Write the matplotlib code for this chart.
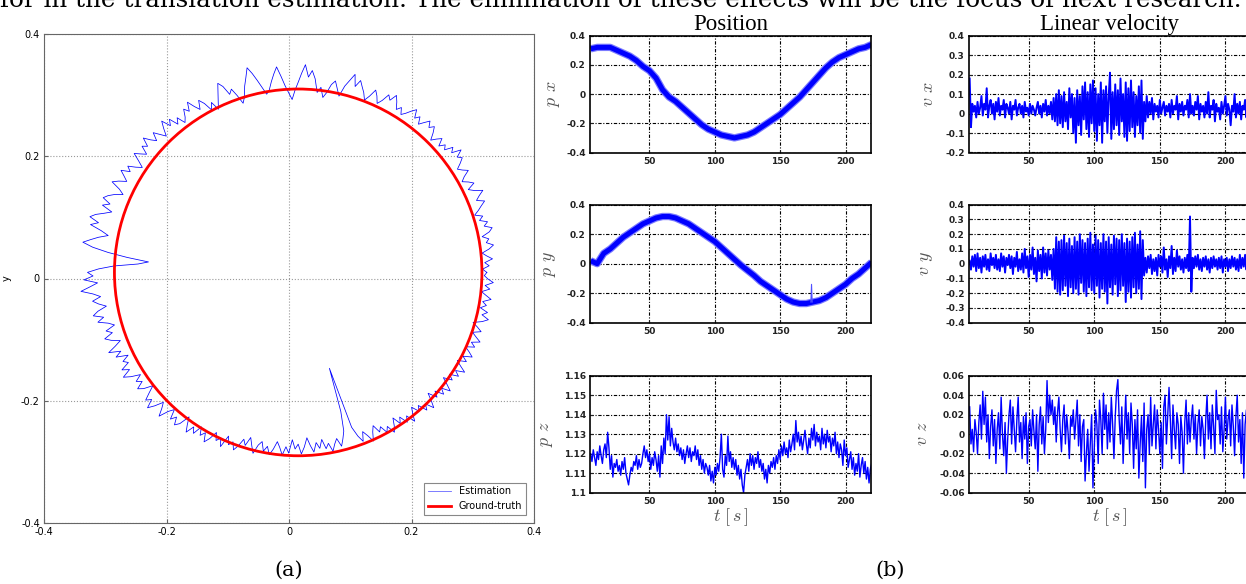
import numpy as np
import matplotlib
matplotlib.use('Agg')
import matplotlib.pyplot as plt
from matplotlib.patches import Circle
from matplotlib.lines import Line2D
from matplotlib.ticker import FuncFormatter

plt.rcParams['mathtext.fontset'] = 'cm'

# ---------------- data ----------------
# (a) trajectory: ground-truth circle and estimated path (polar around circle centre)
gt_center = (0.015, 0.01)
gt_radius = 0.30
est_angle_deg = np.arange(0, 360, 1)
est_radius_mm = [
    308, 301, 312, 305, 318, 309, 302, 314, 322, 311,
    316, 306, 319, 325, 313, 320, 308, 315, 303, 311,
    318, 326, 314, 321, 330, 317, 309, 322, 315, 306,
    313, 324, 316, 310, 319, 327, 321, 333, 318, 325,
    312, 318, 309, 321, 314, 306, 317, 326, 319, 328,
    320, 312, 323, 316, 329, 322, 314, 308, 318, 311,
    322, 331, 319, 326, 313, 305, 316, 324, 311, 302,
    313, 321, 330, 318, 337, 325, 314, 296, 307, 319,
    312, 298, 289, 305, 296, 318, 331, 320, 340, 326,
    311, 298, 283, 294, 306, 322, 338, 327, 315, 302,
    296, 308, 321, 334, 345, 330, 317, 300, 291, 306,
    319, 312, 328, 336, 322, 309, 297, 312, 301, 316,
    325, 311, 320, 332, 318, 326, 314, 307, 321, 312,
    327, 318, 333, 322, 310, 319, 329, 316, 324, 335,
    321, 328, 314, 322, 331, 318, 307, 316, 328, 320,
    334, 325, 317, 329, 338, 322, 313, 326, 335, 341,
    327, 338, 320, 331, 344, 352, 336, 348, 329, 316,
    331, 343, 355, 338, 312, 280, 245, 262, 301, 326,
    344, 335, 350, 328, 341, 356, 337, 325, 339, 330,
    318, 333, 342, 326, 337, 321, 312, 328, 319, 334,
    325, 311, 322, 336, 317, 328, 309, 321, 314, 329,
    318, 333, 322, 307, 319, 311, 324, 316, 301, 313,
    325, 317, 331, 320, 306, 315, 327, 311, 302, 318,
    309, 321, 314, 296, 308, 319, 305, 314, 298, 311,
    303, 317, 308, 294, 306, 299, 312, 291, 304, 297,
    309, 300, 287, 296, 281, 293, 305, 290, 283, 298,
    289, 302, 292, 279, 288, 300, 286, 296, 274, 289,
    281, 297, 286, 271, 284, 295, 280, 290, 276, 292,
    284, 298, 287, 279, 293, 282, 270, 238, 165, 268,
    285, 296, 281, 290, 302, 288, 279, 293, 286, 299,
    291, 305, 296, 284, 298, 289, 303, 294, 309, 297,
    288, 301, 293, 308, 299, 313, 302, 290, 305, 296,
    310, 301, 315, 304, 293, 307, 298, 312, 303, 317,
    306, 297, 311, 302, 316, 308, 299, 313, 305, 318,
    309, 301, 314, 306, 297, 311, 320, 308, 316, 303,
    312, 305, 318, 309, 301, 314, 306, 319, 310, 304,
]

# (b) position, coarse samples every 5 s
t_pos = np.arange(5, 221, 5)
px = [0.31, 0.32, 0.32, 0.32, 0.30, 0.28, 0.26, 0.23, 0.19, 0.16,
      0.11, 0.03, -0.02, -0.05, -0.09, -0.13, -0.17, -0.21, -0.24, -0.26,
      -0.28, -0.29, -0.30, -0.29, -0.28, -0.26, -0.23, -0.20, -0.17, -0.14,
      -0.10, -0.06, -0.02, 0.03, 0.08, 0.13, 0.18, 0.22, 0.25, 0.27,
      0.29, 0.31, 0.32, 0.34]
py = [0.02, 0.0, 0.07, 0.10, 0.14, 0.18, 0.21, 0.24, 0.27, 0.29,
      0.31, 0.32, 0.32, 0.31, 0.29, 0.27, 0.24, 0.21, 0.18, 0.15,
      0.11, 0.07, 0.03, -0.01, -0.045, -0.08, -0.12, -0.15, -0.18, -0.21,
      -0.24, -0.26, -0.27, -0.27, -0.26, -0.25, -0.23, -0.20, -0.17, -0.14,
      -0.10, -0.07, -0.03, 0.01]
py_spike_t = [173.5, 174.0, 174.5]
py_spike = [-0.26, -0.14, -0.26]

# (b) fast signals, one sample per second, in thousandths
t_fast = np.arange(5, 221)
pz_mm = [  # offset above 1.100
    20, 16, 22, 18, 14, 21, 17, 24, 19, 15,
    22, 25, 18, 31, 23, 12, 19, 8, 15, 13,
    17, 11, 14, 9, 16, 12, 18, 10, 7, 4,
    9, 13, 11, 16, 14, 19, 12, 17, 13, 15,
    20, 24, 18, 22, 16, 20, 12, 18, 14, 21,
    17, 11, 19, 8, 24, 15, 28, 20, 40, 27,
    39, 24, 33, 26, 22, 28, 21, 25, 19, 23,
    17, 22, 15, 20, 24, 18, 23, 16, 21, 19,
    24, 17, 22, 14, 19, 12, 17, 10, 15, 13,
    9, 14, 6, 11, 5, 13, 9, 15, 11, 18,
    30, 12, 8, 19, 14, 29, 16, 21, 13, 18,
    12, 17, 9, 14, 7, 12, 4, 0, 9, 13,
    17, 11, 20, 14, 19, 12, 18, 15, 21, 13,
    17, 11, 15, 7, 12, 5, 14, 10, 16, 13,
    18, 12, 19, 15, 22, 17, 24, 19, 26, 20,
    23, 18, 27, 21, 25, 30, 22, 37, 26, 31,
    24, 29, 22, 27, 32, 25, 20, 28, 23, 33,
    27, 35, 24, 31, 26, 29, 22, 33, 25, 30,
    23, 32, 26, 29, 21, 28, 24, 31, 20, 26,
    18, 25, 22, 14, 27, 19, 23, 13, 17, 21,
    12, 18, 9, 15, 11, 20, 8, 14, 18, 10,
    16, 7, 13, 5, 12, 15,
]
vx_mm = [
    180, -70, 50, 10, 40, -20, 60, 0, 30, 90,
    -10, 50, 20, 130, -20, 40, 70, 0, 50, -30,
    60, 10, 80, -10, 40, 20, 70, -20, 50, 30,
    0, 60, -30, 40, 20, 70, -10, 30, 50, 0,
    40, -20, 60, 10, 30, -10, 50, 0, 40, 20,
    -10, 30, 60, 0, 40, -20, 50, 10, 70, -10,
    40, 0, 60, -30, 80, -40, 100, -60, 120, -50,
    90, -70, 110, -40, 60, -80, 130, -20, 100, -100,
    80, -150, 120, -60, 90, -110, 140, -30, 160, -80,
    110, -120, 150, -50, 170, -90, 130, -140, 100, -60,
    160, -150, 120, -40, 140, -100, 90, 210, -130, 110,
    -80, 150, -60, 120, -110, 180, -40, 100, -120, 160,
    -140, 130, -90, 170, -70, 110, -120, 90, -60, 140,
    -100, 170, -130, 60, -40, 90, -20, 60, 0, 80,
    -30, 50, 10, 40, -20, 70, 0, 30, 60, -10,
    40, 10, 50, -20, 70, 0, 40, 20, 90, -30,
    50, 10, 60, -10, 40, 20, 70, -20, 100, 0,
    40, -10, 60, 20, 90, -30, 50, 10, 40, -20,
    60, 0, 110, -20, 40, 20, 70, -40, 50, 10,
    30, -30, 60, 0, 40, 90, -10, 50, 20, -60,
    40, 10, 100, -20, 50, 0, 60, -30, 40, 20,
    70, -20, 50, 10, 80, 0,
]
vy_mm = [
    20, -40, 50, -20, 60, -50, 70, -30, 40, -60,
    50, -20, 60, -40, 30, -50, 70, -10, 40, -30,
    60, -40, 30, -50, 70, -20, 50, -60, 40, -10,
    60, -30, 50, -70, 40, -20, 80, -50, 30, -40,
    70, -60, 100, -30, 50, -90, 60, -40, 110, -70,
    40, -120, 90, -50, 60, -100, 110, -60, 70, -80,
    90, -40, 60, -110, 100, -170, 180, -190, 150, -210,
    160, -180, 190, -150, 140, -220, 170, -160, 120, -200,
    180, -170, 150, -210, 200, -130, 160, -190, 140, -220,
    170, -160, 210, -180, 130, -200, 190, -150, 160, -230,
    140, -170, 200, -190, 150, -270, 180, -160, 130, -210,
    190, -140, 170, -220, 160, -180, 200, -150, 140, -260,
    170, -190, 150, -230, 180, -160, 210, -200, 130, -170,
    220, -240, 160, -80, 40, -60, 50, -30, 60, -70,
    30, -50, 40, -80, 60, -20, 50, -60, 110, -40,
    30, -90, 50, -30, 120, -70, 40, -50, 90, -20,
    50, -40, 30, -60, 40, -30, 60, -50, 320, -190,
    40, -30, 50, -20, 60, -40, 30, -50, 40, -20,
    50, -40, 30, -60, 40, -30, 50, -20, 30, -40,
    40, -30, 50, -60, 30, -20, 40, -50, 30, -30,
    50, -20, 40, -40, 30, -50, 60, -30, 40, -20,
    60, -40, 30, -50, 40, -20,
]
vz_mm = [
    28, -10, 5, -18, 15, 2, -20, 12, 30, -5,
    44, 10, 38, -8, 20, -25, 8, 25, -12, 15,
    -30, 5, 22, -15, 38, 0, -22, 12, -40, -5,
    20, 35, -10, 28, 5, -18, 15, 38, -8, 12,
    -25, 18, -5, 22, -30, 8, 15, -12, 25, 3,
    -15, 20, -38, 10, 28, -10, 18, -20, 5, 55,
    12, 40, 20, 35, 10, 28, -8, 22, 38, 5,
    -18, 15, 30, -10, 20, 2, -25, 18, 8, 25,
    -5, 15, 35, -12, 20, -28, 8, 15, -48, -20,
    5, -38, -10, 20, -55, -15, 25, 10, -30, 35,
    15, -20, 42, 5, 30, -15, 22, -8, 38, 10,
    -25, 18, 45, 56, 15, -10, 28, -30, 5, 40,
    -5, 22, -20, 32, 10, -35, 15, -15, 25, -45,
    -10, 18, -28, 32, -55, 5, 20, -20, 38, -12,
    10, 30, -15, 25, 5, -20, 12, -35, 28, 40,
    -10, 20, 48, 15, -25, 30, 5, -15, 22, 10,
    -30, 18, 2, -40, 12, 35, -10, 22, -8, 15,
    30, -5, 20, -20, 10, 25, -12, 18, 5, -25,
    15, 40, -5, 22, -15, 30, 8, -20, 45, 15,
    20, -10, 28, -18, 5, 38, -5, 15, 25, -12,
    30, 8, -22, 18, 40, -8, 15, -30, 22, -45,
    10, 25, -15, 20, -25, 5,
]

pz = 1.1 + np.array(pz_mm) / 1000.0
vx = np.array(vx_mm) / 1000.0
vy = np.array(vy_mm) / 1000.0
vz = np.array(vz_mm) / 1000.0

# ---------------- figure ----------------
W, H = 1246, 584
fig = plt.figure(figsize=(W / 100, H / 100), dpi=100)


def fbox(x0, top, x1, bottom):
    return [x0 / W, 1 - bottom / H, (x1 - x0) / W, (bottom - top) / H]


fmt = FuncFormatter(lambda v, p: '%g' % (round(v, 4) + 0.0))

# top cropped text line and captions
fig.text(0.0, 1 - 7 / H,
         'for in the translation estimation. The elimination of these effects will be the focus of next research.',
         fontsize=17.7, family='DejaVu Serif', va='baseline', ha='left')
fig.text(289 / W, 1 - 570 / H, '(a)', fontsize=15, family='DejaVu Serif', ha='center', va='center')
fig.text(890 / W, 1 - 570 / H, '(b)', fontsize=15, family='DejaVu Serif', ha='center', va='center')

# ---- (a) ----
ax = fig.add_axes(fbox(44, 34, 534, 523))
ang = np.deg2rad(np.append(est_angle_deg, 360))
rad = np.array(est_radius_mm + est_radius_mm[:1]) / 1000.0
ex = gt_center[0] + rad * np.cos(ang)
ey = gt_center[1] + rad * np.sin(ang)
ax.plot(ex, ey, color='#0000ff', lw=0.55)
ax.add_patch(Circle(gt_center, gt_radius, fill=False, ec='red', lw=2, zorder=3))
ax.set_xlim(-0.4, 0.4)
ax.set_ylim(-0.4, 0.4)
ticks = [-0.4, -0.2, 0, 0.2, 0.4]
ax.set_xticks(ticks)
ax.set_yticks(ticks)
ax.xaxis.set_major_formatter(fmt)
ax.yaxis.set_major_formatter(fmt)
ax.grid(True, color='#999999', linestyle=':', lw=0.8)
for s in ax.spines.values():
    s.set_color('#666666')
    s.set_linewidth(0.8)
ax.tick_params(direction='in', length=3, labelsize=7, color='#666666', pad=3)
ax.set_ylabel('y', fontsize=7)
ax.yaxis.set_label_coords((12 - 44) / 490, 0.5)
handles = [Line2D([], [], color='#0000ff', lw=0.6, alpha=0.6),
           Line2D([], [], color='red', lw=2)]
leg = ax.legend(handles, ['Estimation', 'Ground-truth'], loc='lower right',
                fontsize=7, fancybox=False, edgecolor='#888888', framealpha=1,
                borderpad=0.4, handlelength=2.4, borderaxespad=0.8)
leg.get_frame().set_linewidth(0.8)

# ---- (b) ----
grid_ls = (0, (3, 1.5, 1, 1.5))


def style_ts(a, yticks, ylab, labx):
    a.set_xlim(4.5, 219.5)
    a.set_xticks([50, 100, 150, 200])
    a.set_ylim(yticks[0], yticks[-1])
    a.set_yticks(yticks)
    a.yaxis.set_major_formatter(fmt)
    a.grid(True, color='black', linestyle=grid_ls, lw=0.8)
    for s in a.spines.values():
        s.set_linewidth(1.2)
    a.tick_params(direction='in', length=2, labelsize=6.5, pad=3, colors='#222222')
    for lbl in a.get_xticklabels() + a.get_yticklabels():
        lbl.set_fontweight('bold')
    a.set_ylabel(ylab, fontsize=13, color='#555555')
    a.yaxis.set_label_coords(labx, 0.5)


rows = [(35.7, 152.5), (204.7, 322.7), (375.7, 492.7)]
c1 = (590, 871)
c2 = (969, 1251)

a = fig.add_axes(fbox(c1[0], rows[0][0], c1[1], rows[0][1]))
a.plot(t_pos, px, color='#7a7aff', lw=5.3, solid_capstyle='butt')
a.plot(t_pos, px, color='#0000ff', lw=3.6, solid_capstyle='butt')
style_ts(a, [-0.4, -0.2, 0, 0.2, 0.4], r'$p\ x$', -0.10)
a.set_title('Position', family='Liberation Serif', fontsize=16.5, pad=4)

a = fig.add_axes(fbox(c1[0], rows[1][0], c1[1], rows[1][1]))
a.plot(t_pos, py, color='#7a7aff', lw=5.3, solid_capstyle='butt')
a.plot(t_pos, py, color='#0000ff', lw=3.6, solid_capstyle='butt')
a.plot(py_spike_t, py_spike, color='#5050ff', lw=0.8)
style_ts(a, [-0.4, -0.2, 0, 0.2, 0.4], r'$p\ y$', -0.115)

a = fig.add_axes(fbox(c1[0], rows[2][0], c1[1], rows[2][1]))
a.plot(t_fast, pz, color='#0000ff', lw=1.0)
style_ts(a, [1.10, 1.11, 1.12, 1.13, 1.14, 1.15, 1.16], r'$p\ z$', -0.125)
a.set_xlabel(r'$t\ [\,s\,]$', fontsize=13, color='#555555', labelpad=0)

a = fig.add_axes(fbox(c2[0], rows[0][0], c2[1], rows[0][1]))
a.plot(t_fast, vx, color='#0000ff', lw=1.4)
style_ts(a, [-0.2, -0.1, 0, 0.1, 0.2, 0.3, 0.4], r'$v\ x$', -0.115)
a.set_title('Linear velocity', family='Liberation Serif', fontsize=16.5, pad=4)

a = fig.add_axes(fbox(c2[0], rows[1][0], c2[1], rows[1][1]))
a.plot(t_fast, vy, color='#0000ff', lw=1.4)
style_ts(a, [-0.4, -0.3, -0.2, -0.1, 0, 0.1, 0.2, 0.3, 0.4], r'$v\ y$', -0.12)

a = fig.add_axes(fbox(c2[0], rows[2][0], c2[1], rows[2][1]))
a.plot(t_fast, vz, color='#0000ff', lw=1.0)
style_ts(a, [-0.06, -0.04, -0.02, 0, 0.02, 0.04, 0.06], r'$v\ z$', -0.135)
a.set_xlabel(r'$t\ [\,s\,]$', fontsize=13, color='#555555', labelpad=0)

fig.savefig('out.png', dpi=100)
